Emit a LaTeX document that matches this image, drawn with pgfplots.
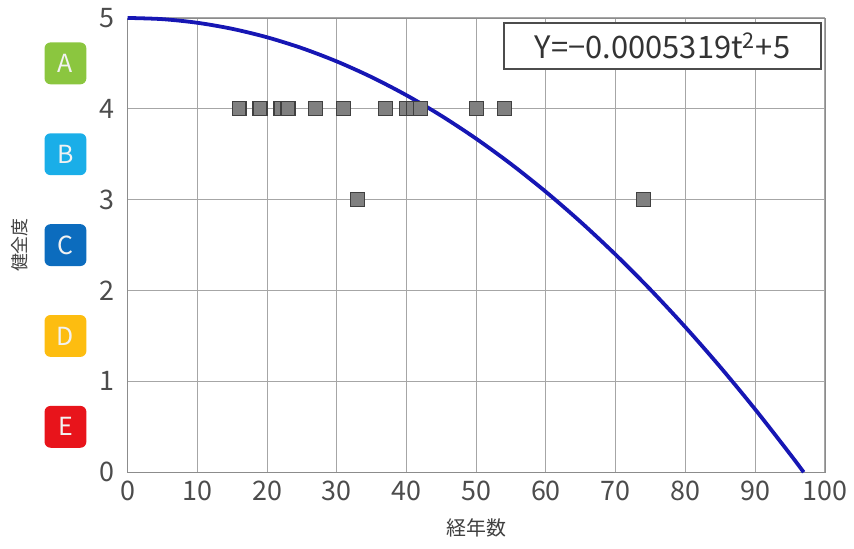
\documentclass[border=0pt]{standalone}
\usepackage{pgfplots}
\pgfplotsset{compat=1.18}
\usepackage{fontspec}
\setmainfont{Noto Sans CJK JP}
\definecolor{colA}{RGB}{139,198,63}
\definecolor{colB}{RGB}{26,174,232}
\definecolor{colC}{RGB}{12,108,190}
\definecolor{colD}{RGB}{253,189,16}
\definecolor{colE}{RGB}{232,20,27}
\definecolor{curve}{RGB}{22,22,180}
\begin{document}
\begin{tikzpicture}
\begin{axis}[
  scale only axis, width=350pt, height=228pt,
  xmin=0, xmax=100, ymin=0, ymax=5,
  xtick={0,10,...,100}, ytick={0,1,...,5},
  grid=major, grid style={black!35, line width=0.5pt},
  axis line style={black!45},
  major tick length=0pt,
  /pgf/number format/assume math mode=true,
  tick label style={font=\fontsize{13.5}{15}\selectfont, text=black!70},
  xticklabel style={yshift=-1pt},
  yticklabel style={xshift=-3pt},
  xlabel={経年数}, ylabel={健全度},
  every axis x label/.style={at={(rel axis cs:0.5,-0.1228)}, anchor=center, font=\fontsize{10}{12}\selectfont, text=black!75},
  every axis y label/.style={at={(rel axis cs:-0.154,0.5)}, anchor=center, rotate=90, font=\fontsize{9}{11}\selectfont, text=black!75},
  clip=false,
]
\addplot[curve, line width=1.9pt, smooth, no markers] coordinates {
 (0,5) (5,4.9867) (10,4.9468) (15,4.8803) (20,4.7872) (25,4.6676) (30,4.5213)
 (35,4.3484) (40,4.1490) (45,3.9229) (50,3.6703) (55,3.3910) (60,3.0852)
 (65,2.7527) (70,2.3937) (75,2.0081) (80,1.5958) (85,1.1570) (90,0.6916)
 (95,0.1996) (96.95,0)
};
\addplot[only marks, mark=square*, mark size=3.5pt, mark options={fill=black!50, draw=black!75, line width=0.6pt}] coordinates {
 (16,4) (19,4) (22,4) (23,4) (27,4) (31,4) (37,4) (40,4) (41,4) (42,4) (50,4) (54,4)
 (33,3) (74,3)
};
\foreach \lab/\col/\yy in {A/colA/4.5, B/colB/3.5, C/colC/2.5, D/colD/1.5, E/colE/0.5}{
  \edef\tmp{\noexpand\node[fill=\col, rounded corners=3pt, minimum width=21pt, minimum height=21pt, inner sep=0pt, text=white!90!gray, font=\noexpand\fontsize{12.5}{14}\noexpand\selectfont] at (axis cs:-8.9,\yy) {\lab};}
  \tmp
}
\node[draw=black!70, line width=1pt, fill=white, minimum width=159pt, minimum height=23pt, inner sep=0pt, anchor=north east, font=\fontsize{15.5}{17}\selectfont, text=black!80] at ([xshift=-1.5pt,yshift=-2pt]rel axis cs:1,1) {Y=−0.0005319t\textsuperscript{2}+5};
\path ([xshift=-64pt,yshift=-38.5pt]rel axis cs:0,0) rectangle ([xshift=13pt,yshift=9pt]rel axis cs:1,1);
\end{axis}
\end{tikzpicture}
\end{document}
